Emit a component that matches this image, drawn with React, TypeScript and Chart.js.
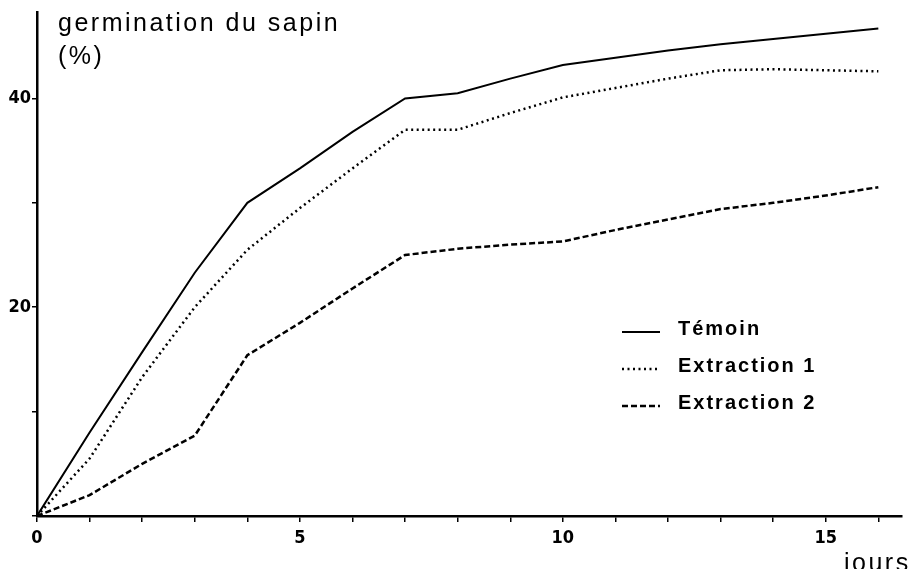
import React, { useEffect, useRef } from "react";
import { Chart, registerables } from "chart.js";

Chart.register(...registerables);

const days = [0, 1, 2, 3, 4, 5, 6, 7, 8, 9, 10, 11, 12, 13, 14, 15, 16];
const temoin = [0, 8, 15.7, 23.3, 30, 33.3, 36.8, 40, 40.5, 41.9, 43.2, 43.9, 44.6, 45.2, 45.7, 46.2, 46.7];
const extraction1 = [0, 5.5, 13.3, 20, 25.5, 29.5, 33.3, 37, 37, 38.6, 40.1, 41, 41.9, 42.7, 42.8, 42.7, 42.6];
const extraction2 = [0, 2, 5, 7.7, 15.4, 18.5, 21.8, 25, 25.6, 26, 26.3, 27.4, 28.4, 29.4, 30, 30.7, 31.5];
const seriesNames = ["Témoin", "Extraction 1", "Extraction 2"];
const xTickLabels = [0, 5, 10, 15];
const yTickLabels = [20, 40];
const titleLines = ["germination du sapin", "(%)"];
const xAxisTitle = "jours";

const dashes: number[][] = [[], [2, 3.5], [6, 3]];

const textPlugin = {
  id: "textPlugin",
  afterDraw(chart: any) {
    const ctx = chart.ctx as CanvasRenderingContext2D;
    ctx.save();
    ctx.fillStyle = "#000";
    ctx.strokeStyle = "#000";
    // title
    ctx.font = "25px 'Liberation Sans', Arial, sans-serif";
    (ctx as any).letterSpacing = "2.5px";
    ctx.textBaseline = "alphabetic";
    ctx.textAlign = "left";
    ctx.fillText(titleLines[0], 58, 31);
    ctx.fillText(titleLines[1], 58, 64);
    // x axis title
    ctx.font = "25px 'Liberation Sans', Arial, sans-serif";
    (ctx as any).letterSpacing = "2.5px";
    ctx.fillText(xAxisTitle, 844, 571);
    // legend
    ctx.font = "bold 20px 'Liberation Sans', Arial, sans-serif";
    (ctx as any).letterSpacing = "2px";
    ctx.textBaseline = "middle";
    const ys = [329, 366, 403];
    chart.data.datasets.forEach((ds: any, i: number) => {
      ctx.beginPath();
      ctx.lineWidth = i === 0 ? 2 : 2.5;
      ctx.setLineDash(dashes[i]);
      ctx.moveTo(622, ys[i] + 3);
      ctx.lineTo(660, ys[i] + 3);
      ctx.stroke();
      ctx.setLineDash([]);
      ctx.fillText(ds.label, 678, ys[i]);
    });
    ctx.restore();
  },
};

export default function App() {
  const ref = useRef<HTMLCanvasElement>(null);
  useEffect(() => {
    if (!ref.current) return;
    const series = [temoin, extraction1, extraction2];
    const tickFont = {
      family: "'Liberation Sans Narrow', 'DejaVu Sans Condensed', 'Liberation Sans', Arial",
      size: 18,
      weight: "bold" as const,
    };
    const chart = new Chart(ref.current, {
      type: "line",
      data: {
        datasets: series.map((s, i) => ({
          label: seriesNames[i],
          data: days.map((d, j) => ({ x: d, y: s[j] })),
          borderColor: "#000",
          borderWidth: i === 0 ? 2 : 2.5,
          borderDash: dashes[i],
          pointRadius: 0,
          tension: 0,
          fill: false,
        })),
      },
      options: {
        responsive: false,
        animation: false,
        layout: { padding: { top: 11, right: 9, left: 0, bottom: 0 } },
        plugins: { legend: { display: false }, tooltip: { enabled: false } },
        scales: {
          x: {
            type: "linear",
            min: 0,
            max: 16.45,
            ticks: {
              stepSize: 1,
              includeBounds: false,
              autoSkip: false,
              maxRotation: 0,
              padding: 6,
              color: "#000",
              font: tickFont,
              callback: (v: any) => (xTickLabels.includes(Number(v)) ? String(v) : ""),
            },
            grid: { drawOnChartArea: false, drawTicks: true, tickLength: 6, color: "#000", lineWidth: 1.5 },
            border: { display: true, color: "#000", width: 2.5 },
            afterFit: (s: any) => {
              s.height = 53;
            },
          },
          y: {
            type: "linear",
            min: 0,
            max: 48.3,
            ticks: {
              stepSize: 10,
              includeBounds: false,
              padding: 1,
              color: "#000",
              font: tickFont,
              callback: (v: any) => (yTickLabels.includes(Number(v)) ? String(v) : ""),
            },
            grid: { drawOnChartArea: false, drawTicks: true, tickLength: 5, color: "#000", lineWidth: 1.5 },
            border: { display: true, color: "#000", width: 2.5 },
            afterFit: (s: any) => {
              s.width = 37;
            },
          },
        },
      },
      plugins: [textPlugin],
    });
    return () => chart.destroy();
  }, []);
  return (
    <div style={{ position: "fixed", left: 0, top: 0, width: 911, height: 569, background: "#fff" }}>
      <canvas ref={ref} width={911} height={569} />
    </div>
  );
}
